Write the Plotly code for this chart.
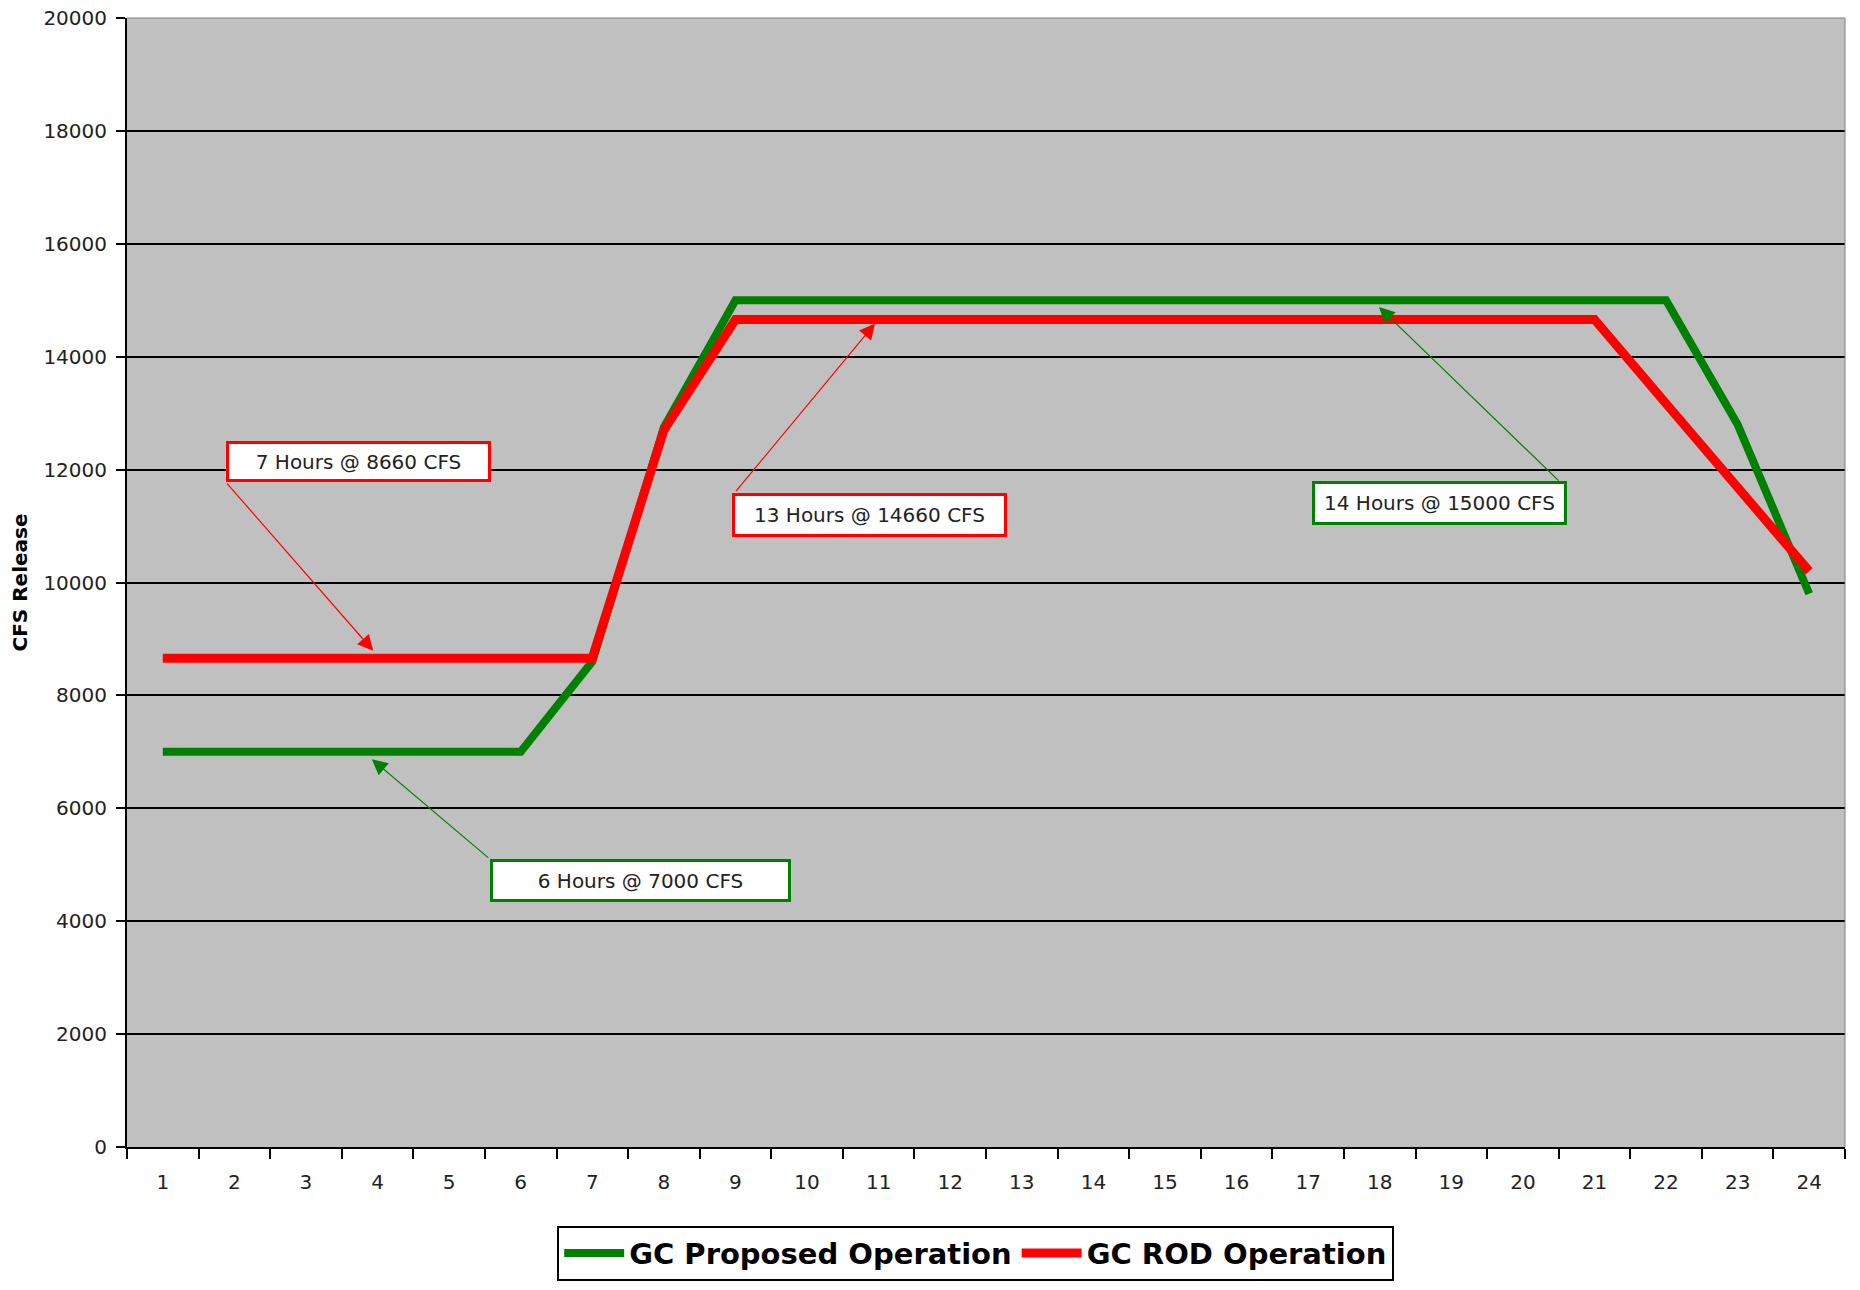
import plotly.graph_objects as go

# Hourly release schedule (CFS) for a 24-hour day
hours = list(range(1, 25))
hour_labels = [str(h) for h in hours]
proposed_cfs = [7000, 7000, 7000, 7000, 7000, 7000, 8600, 12750,
                15000, 15000, 15000, 15000, 15000, 15000, 15000, 15000,
                15000, 15000, 15000, 15000, 15000, 15000, 12800, 9800]
rod_cfs = [8660, 8660, 8660, 8660, 8660, 8660, 8660, 12700,
           14660, 14660, 14660, 14660, 14660, 14660, 14660, 14660,
           14660, 14660, 14660, 14660, 14660, 13170, 11690, 10200]
y_ticks = list(range(0, 20001, 2000))
y_tick_labels = [str(v) for v in y_ticks]

series_names = ["GC Proposed Operation", "GC ROD Operation"]
GREEN = "#008000"
RED = "#FF0000"
FONT = "DejaVu Sans"

fig = go.Figure()
fig.add_trace(go.Scatter(x=hours, y=proposed_cfs, mode="lines", name=series_names[0],
                         line=dict(color=GREEN, width=8)))
fig.add_trace(go.Scatter(x=hours, y=rod_cfs, mode="lines", name=series_names[1],
                         line=dict(color=RED, width=9)))

# Callouts: (text, colour, box centre x/y, box w/h, arrow tail x/y, arrow head x/y)
callouts = [
    ("7 Hours @ 8660 CFS", RED, 3.73, 12140, 265, 41, 1.88, 11780, 3.94, 8790),
    ("13 Hours @ 14660 CFS", RED, 10.87, 11200, 275, 44, 8.99, 11590, 10.95, 14590),
    ("14 Hours @ 15000 CFS", GREEN, 18.84, 11400, 255, 44, 20.52, 11780, 17.99, 14880),
    ("6 Hours @ 7000 CFS", GREEN, 7.67, 4720, 301, 43, 5.57, 5100, 3.92, 6870),
]
bw, pad = 3, 1
for text, col, bx, by, w, h, tx, ty, hx, hy in callouts:
    fig.add_annotation(x=hx, y=hy, ax=tx, ay=ty, xref="x", yref="y", axref="x", ayref="y",
                       text="", showarrow=True, arrowhead=2, arrowsize=2.6,
                       arrowwidth=1.2, arrowcolor=col, standoff=0, startstandoff=0)
for text, col, bx, by, w, h, tx, ty, hx, hy in callouts:
    fig.add_annotation(x=bx, y=by, xref="x", yref="y", text=text, showarrow=False,
                       xanchor="center", yanchor="middle",
                       width=w - 2 * (bw + pad), height=h - 2 * (bw + pad),
                       bgcolor="white", bordercolor=col, borderwidth=bw, borderpad=pad,
                       font=dict(family=FONT, size=20, color="#222222"))

# Thin grey frame on the top and right of the plotting area
fig.add_shape(type="path", path="M 0,1 L 1,1 L 1,0", xref="paper", yref="paper",
              line=dict(color="#808080", width=1), layer="above")

fig.update_layout(
    width=1860, height=1290,
    margin=dict(l=127, r=15, t=18, b=143, autoexpand=False),
    paper_bgcolor="white", plot_bgcolor="#C0C0C0",
    font=dict(family=FONT, size=20, color="#222222"),
    showlegend=True,
    legend=dict(orientation="h", x=0.494, y=-0.094, xanchor="center", yanchor="middle",
                bgcolor="white", bordercolor="black", borderwidth=2,
                font=dict(family=FONT, size=29, color="black", weight="bold"),
                itemwidth=60, tracegroupgap=0),
)
fig.update_xaxes(
    range=[0.5, 24.5], tickmode="array", tickvals=hours, ticktext=hour_labels,
    ticks="outside", ticklen=10, tickcolor="rgba(0,0,0,0)", ticklabelstandoff=6,
    showgrid=False, zeroline=False, showline=True, linecolor="black", linewidth=2,
    minor=dict(tickmode="array", tickvals=[h - 0.5 for h in hours] + [24.5],
               ticks="outside", ticklen=10, tickwidth=2, tickcolor="black", showgrid=False),
    tickfont=dict(family=FONT, size=20, color="#222222"), automargin=False,
)
fig.update_yaxes(
    range=[0, 20000], tickmode="array", tickvals=y_ticks, ticktext=y_tick_labels,
    ticks="outside", ticklen=9, tickwidth=2, tickcolor="black", ticklabelstandoff=5,
    showgrid=True, gridcolor="black", gridwidth=1.5, zeroline=False,
    showline=True, linecolor="black", linewidth=2,
    tickfont=dict(family=FONT, size=20, color="#222222"), automargin=False,
    title=dict(text="CFS Release", standoff=10,
               font=dict(family=FONT, size=20, color="black", weight="bold")),
)

fig.write_html("out.html")
